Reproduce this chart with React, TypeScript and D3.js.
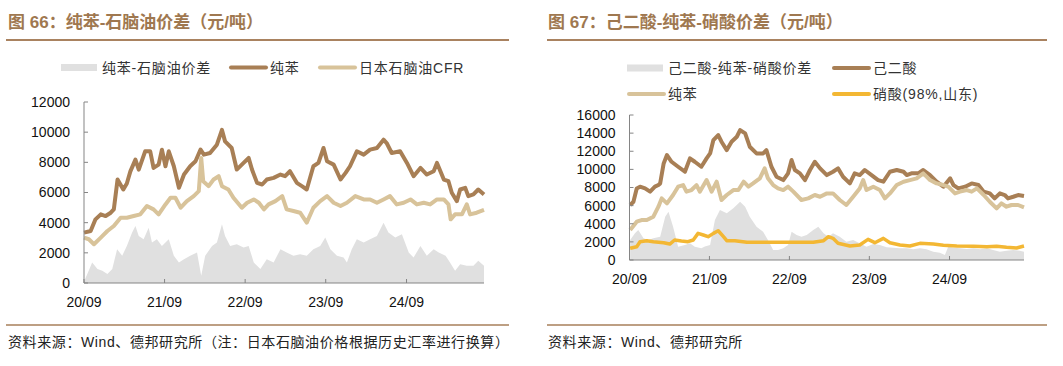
import { scaleLinear, scaleTime, line, area, timeParse, timeFormat } from "d3";

// two spread charts side by side, brokerage report style

type Pt = [string, number];

const FONT = '"Liberation Sans", Arial, "Noto Sans CJK SC", sans-serif';
const BROWN = "#a87f55";
const TAN = "#d8c39a";
const GRAY = "#e0e0e0";
const YELLOW = "#f3b733";
const TITLE = "#9f7850";

// ---- chart 66: benzene - naphtha ----
const LEFT_SPREAD: Pt[] = [
  ["2020-09-01", 100], ["2020-09-16", 590], ["2020-10-08", 1360], ["2020-11-01", 920],
  ["2020-11-23", 810], ["2020-12-16", 590], ["2021-01-07", 920], ["2021-01-29", 2240],
  ["2021-02-21", 1800], ["2021-03-14", 2460], ["2021-04-07", 3340], ["2021-04-22", 3780],
  ["2021-05-07", 3120], ["2021-05-29", 2900], ["2021-06-21", 3670], ["2021-07-06", 2680],
  ["2021-07-28", 2900], ["2021-08-20", 2460], ["2021-09-20", 2900], ["2021-10-13", 1800],
  ["2021-11-05", 1360], ["2021-11-28", 1580], ["2021-12-26", 1800], ["2022-01-26", 2020],
  ["2022-02-14", 480], ["2022-03-04", 1800], ["2022-04-04", 2460], ["2022-04-26", 2680],
  ["2022-05-19", 3890], ["2022-06-02", 3120], ["2022-06-25", 2460], ["2022-07-25", 2570],
  ["2022-08-25", 2350], ["2022-09-17", 2460], ["2022-10-10", 1360], ["2022-11-09", 920],
  ["2022-12-08", 1580], ["2023-01-08", 1360], ["2023-02-08", 2240], ["2023-03-08", 2020],
  ["2023-04-08", 1800], ["2023-05-08", 1910], ["2023-06-07", 1800], ["2023-07-07", 2240],
  ["2023-08-07", 2460], ["2023-08-30", 3010], ["2023-09-22", 2240], ["2023-10-22", 1800],
  ["2023-11-21", 1690], ["2023-12-06", 1360], ["2023-12-28", 2240], ["2024-01-20", 2900],
  ["2024-02-20", 2680], ["2024-03-20", 2900], ["2024-04-20", 3120], ["2024-05-20", 4000],
  ["2024-06-11", 3340], ["2024-07-12", 3010], ["2024-08-11", 3230], ["2024-09-11", 2020],
  ["2024-10-03", 1690], ["2024-11-03", 2460], ["2024-12-02", 1800], ["2025-01-02", 2240],
  ["2025-01-25", 2020], ["2025-02-25", 1800], ["2025-03-17", 1360], ["2025-04-09", 810],
  ["2025-05-02", 1250], ["2025-06-01", 1140], ["2025-07-01", 1140], ["2025-07-23", 1470],
  ["2025-08-18", 1140],
];

const LEFT_BENZENE: Pt[] = [
  ["2020-09-01", 3340], ["2020-10-01", 3450], ["2020-10-23", 4220], ["2020-11-16", 4550],
  ["2020-12-08", 4440], ["2020-12-31", 4660], ["2021-01-14", 4880], ["2021-01-31", 6860],
  ["2021-02-26", 6200], ["2021-03-14", 6600], ["2021-03-30", 7400], ["2021-04-22", 8180],
  ["2021-05-07", 7520], ["2021-06-05", 8730], ["2021-06-28", 8730], ["2021-07-13", 7630],
  ["2021-08-05", 7850], ["2021-08-20", 8840], ["2021-09-05", 7740], ["2021-09-20", 8730],
  ["2021-10-13", 7740], ["2021-11-05", 6310], ["2021-11-28", 7190], ["2021-12-26", 7740],
  ["2022-01-19", 8070], ["2022-02-11", 8840], ["2022-02-26", 8510], ["2022-03-26", 8620],
  ["2022-04-26", 9170], ["2022-05-19", 10150], ["2022-06-02", 9390], ["2022-07-02", 8950],
  ["2022-07-25", 7520], ["2022-08-25", 7960], ["2022-09-17", 8290], ["2022-10-02", 7520],
  ["2022-10-25", 6640], ["2022-11-17", 6530], ["2022-12-08", 6860], ["2023-01-08", 6970],
  ["2023-02-08", 7190], ["2023-03-01", 7080], ["2023-03-23", 7410], ["2023-04-23", 6640],
  ["2023-05-16", 6420], ["2023-06-07", 6200], ["2023-07-07", 7740], ["2023-07-30", 7960],
  ["2023-08-22", 8950], ["2023-09-07", 8070], ["2023-10-07", 7850], ["2023-11-07", 6860],
  ["2023-11-30", 7300], ["2023-12-20", 7740], ["2024-01-20", 8730], ["2024-02-20", 8510],
  ["2024-03-20", 8840], ["2024-04-20", 8950], ["2024-05-20", 9500], ["2024-06-03", 9280],
  ["2024-06-26", 8620], ["2024-08-03", 8730], ["2024-09-03", 7960], ["2024-10-03", 7080],
  ["2024-11-03", 7630], ["2024-12-02", 7190], ["2025-01-02", 7410], ["2025-01-17", 7960],
  ["2025-02-17", 6860], ["2025-03-10", 6750], ["2025-03-25", 5980], ["2025-04-17", 5430],
  ["2025-05-02", 6200], ["2025-05-25", 6310], ["2025-06-08", 5760], ["2025-07-01", 5870],
  ["2025-07-23", 6200], ["2025-08-18", 5870],
];

const LEFT_NAPHTHA: Pt[] = [
  ["2020-09-01", 3010], ["2020-09-23", 2900], ["2020-10-16", 2570], ["2020-11-16", 3010],
  ["2020-12-16", 3450], ["2021-01-14", 3780], ["2021-02-14", 4330], ["2021-03-14", 4330],
  ["2021-04-14", 4440], ["2021-05-14", 4550], ["2021-06-13", 5100], ["2021-07-13", 4880],
  ["2021-08-05", 4550], ["2021-09-05", 5210], ["2021-09-28", 5650], ["2021-10-20", 5650],
  ["2021-11-13", 4990], ["2021-12-11", 5430], ["2022-01-11", 5760], ["2022-02-03", 6090],
  ["2022-02-14", 8290], ["2022-02-23", 6750], ["2022-03-19", 6420], ["2022-04-11", 6860],
  ["2022-05-04", 7080], ["2022-05-19", 6420], ["2022-06-17", 6200], ["2022-07-10", 5650],
  ["2022-08-17", 4990], ["2022-09-10", 5320], ["2022-10-10", 5540], ["2022-11-02", 5320],
  ["2022-11-25", 4880], ["2022-12-16", 5210], ["2023-01-16", 5430], ["2023-02-16", 5760],
  ["2023-03-08", 4880], ["2023-04-08", 4770], ["2023-05-08", 4660], ["2023-06-07", 4000],
  ["2023-07-07", 4990], ["2023-08-07", 5430], ["2023-09-07", 5760], ["2023-10-07", 5320],
  ["2023-11-07", 5100], ["2023-12-06", 5320], ["2024-01-13", 5760], ["2024-02-20", 5540],
  ["2024-03-20", 5540], ["2024-04-20", 5320], ["2024-05-20", 5540], ["2024-06-18", 5760],
  ["2024-07-19", 5210], ["2024-08-19", 5320], ["2024-09-19", 5540], ["2024-10-18", 5210],
  ["2024-11-18", 5320], ["2024-12-17", 5210], ["2025-01-17", 5540], ["2025-02-17", 5540],
  ["2025-03-10", 5210], ["2025-03-20", 4220], ["2025-04-09", 4550], ["2025-05-10", 4550],
  ["2025-06-01", 5210], ["2025-06-16", 4550], ["2025-07-16", 4660], ["2025-08-18", 4840],
];

// ---- chart 67: adipic acid - benzene - nitric acid ----
const RIGHT_SPREAD: Pt[] = [
  ["2020-09-04", 2210], ["2020-09-26", 2940], ["2020-10-11", 3310], ["2020-11-04", 2390],
  ["2020-11-26", 2210], ["2020-12-19", 2390], ["2021-01-19", 2570], ["2021-02-11", 4780],
  ["2021-02-26", 5330], ["2021-03-19", 3680], ["2021-04-11", 1470], ["2021-05-12", 1650],
  ["2021-06-04", 1840], ["2021-06-26", 1470], ["2021-07-26", 1290], ["2021-08-11", 1500],
  ["2021-09-04", 1650], ["2021-09-26", 4410], ["2021-10-19", 5510], ["2021-11-19", 5150],
  ["2021-12-19", 5700], ["2022-01-19", 6430], ["2022-02-11", 5880], ["2022-03-04", 4780],
  ["2022-04-04", 3680], ["2022-05-04", 3120], ["2022-05-26", 2210], ["2022-06-19", 1100],
  ["2022-07-11", 1100], ["2022-08-04", 1290], ["2022-08-26", 1650], ["2022-09-11", 3120],
  ["2022-10-04", 2760], ["2022-10-26", 2570], ["2022-11-19", 2760], ["2022-12-19", 3310],
  ["2023-01-11", 3680], ["2023-02-04", 2940], ["2023-02-26", 2570], ["2023-03-19", 2940],
  ["2023-04-19", 2570], ["2023-05-19", 2020], ["2023-06-19", 2210], ["2023-07-19", 1840],
  ["2023-08-19", 1470], ["2023-09-19", 1760], ["2023-10-19", 1650], ["2023-11-19", 1400],
  ["2023-12-19", 1360], ["2024-01-19", 1290], ["2024-02-19", 1290], ["2024-03-19", 1180],
  ["2024-04-19", 1290], ["2024-05-19", 1180], ["2024-06-19", 920], ["2024-07-19", 810],
  ["2024-08-11", 550], ["2024-08-26", 1470], ["2024-09-19", 1360], ["2024-10-19", 1290],
  ["2024-11-19", 1210], ["2024-12-19", 1290], ["2025-01-19", 1180], ["2025-02-19", 1290],
  ["2025-03-19", 1100], ["2025-04-19", 920], ["2025-05-19", 1030], ["2025-06-19", 1100],
  ["2025-07-19", 1030], ["2025-08-07", 920],
];

const RIGHT_ADIPIC: Pt[] = [
  ["2020-09-04", 6065], ["2020-09-19", 6430], ["2020-10-04", 7900], ["2020-10-19", 8090],
  ["2020-11-11", 7900], ["2020-12-04", 7540], ["2020-12-26", 8090], ["2021-01-11", 8270],
  ["2021-01-19", 8450], ["2021-02-04", 10660], ["2021-02-19", 11580], ["2021-03-12", 10840],
  ["2021-04-11", 10290], ["2021-05-12", 9740], ["2021-06-04", 11210], ["2021-06-26", 10840],
  ["2021-07-26", 10290], ["2021-08-19", 11210], ["2021-09-04", 11760], ["2021-09-19", 13230],
  ["2021-10-11", 13790], ["2021-10-26", 13050], ["2021-11-19", 12130], ["2021-12-11", 13050],
  ["2022-01-04", 13600], ["2022-01-19", 14340], ["2022-02-11", 13970], ["2022-03-04", 12500],
  ["2022-04-04", 11760], ["2022-05-04", 11760], ["2022-05-19", 12130], ["2022-06-11", 10290],
  ["2022-07-04", 9190], ["2022-08-04", 8820], ["2022-08-26", 9560], ["2022-09-11", 11030],
  ["2022-09-26", 9930], ["2022-10-19", 9560], ["2022-11-11", 8820], ["2022-12-04", 9930],
  ["2022-12-26", 10840], ["2023-01-19", 10110], ["2023-02-19", 9370], ["2023-03-19", 9740],
  ["2023-04-11", 10110], ["2023-05-04", 9190], ["2023-06-04", 8450], ["2023-06-26", 9560],
  ["2023-07-19", 9370], ["2023-08-11", 9930], ["2023-09-11", 9370], ["2023-10-11", 8820],
  ["2023-11-04", 8640], ["2023-12-04", 9740], ["2024-01-04", 9930], ["2024-02-04", 9740],
  ["2024-02-19", 9370], ["2024-03-11", 9560], ["2024-04-11", 9560], ["2024-05-04", 9930],
  ["2024-06-04", 9370], ["2024-07-04", 8640], ["2024-08-04", 8090], ["2024-09-04", 9010],
  ["2024-09-19", 8270], ["2024-10-11", 7900], ["2024-11-11", 8090], ["2024-12-11", 8450],
  ["2025-01-11", 8270], ["2025-02-04", 7540], ["2025-03-04", 7350], ["2025-03-26", 6800],
  ["2025-04-19", 7350], ["2025-05-11", 7170], ["2025-05-26", 6800], ["2025-06-19", 6980],
  ["2025-07-11", 7170], ["2025-08-07", 7060],
];

const RIGHT_BENZENE: Pt[] = [
  ["2020-09-04", 3310], ["2020-10-04", 4230], ["2020-10-26", 4410], ["2020-11-19", 4410],
  ["2020-12-19", 4780], ["2021-01-11", 5880], ["2021-01-26", 6800], ["2021-02-19", 6250],
  ["2021-03-19", 7170], ["2021-04-11", 8090], ["2021-05-04", 8270], ["2021-05-19", 7540],
  ["2021-06-11", 7720], ["2021-07-04", 8270], ["2021-07-19", 7540], ["2021-08-19", 8820],
  ["2021-09-11", 7540], ["2021-10-04", 8640], ["2021-10-26", 6620], ["2021-11-19", 7170],
  ["2021-12-19", 7720], ["2022-01-11", 7720], ["2022-02-04", 8640], ["2022-02-26", 8090],
  ["2022-03-19", 8450], ["2022-04-19", 9010], ["2022-05-11", 10110], ["2022-05-26", 9010],
  ["2022-06-19", 8270], ["2022-07-11", 7900], ["2022-08-04", 7720], ["2022-08-26", 8090],
  ["2022-09-19", 7540], ["2022-10-26", 6620], ["2022-11-26", 6800], ["2022-12-26", 7170],
  ["2023-01-19", 6980], ["2023-02-19", 7350], ["2023-03-19", 7350], ["2023-04-19", 6620],
  ["2023-05-19", 6070], ["2023-06-19", 6980], ["2023-07-19", 7900], ["2023-08-04", 8820],
  ["2023-08-19", 7720], ["2023-09-19", 8090], ["2023-10-19", 7720], ["2023-11-11", 6800],
  ["2023-12-04", 7350], ["2024-01-04", 8270], ["2024-02-04", 8640], ["2024-03-04", 8820],
  ["2024-04-04", 9010], ["2024-05-04", 9560], ["2024-06-04", 8820], ["2024-07-04", 8450],
  ["2024-08-04", 8270], ["2024-08-26", 8090], ["2024-09-26", 7350], ["2024-10-19", 7540],
  ["2024-11-19", 7720], ["2024-12-11", 7540], ["2025-01-04", 7900], ["2025-02-04", 7170],
  ["2025-03-04", 6430], ["2025-04-04", 5700], ["2025-04-26", 6250], ["2025-05-19", 5880],
  ["2025-06-11", 6070], ["2025-07-11", 6070], ["2025-08-07", 5810],
];

const RIGHT_NITRIC: Pt[] = [
  ["2020-09-04", 1290], ["2020-10-04", 1470], ["2020-10-19", 2020], ["2020-11-19", 2130],
  ["2020-12-19", 2020], ["2021-02-04", 1910], ["2021-03-04", 1760], ["2021-03-26", 2210],
  ["2021-04-26", 2100], ["2021-05-26", 2020], ["2021-06-19", 2210], ["2021-07-11", 2940],
  ["2021-08-04", 2760], ["2021-08-26", 2570], ["2021-09-19", 2940], ["2021-10-11", 3230],
  ["2021-11-04", 2570], ["2021-11-19", 2130], ["2021-12-26", 2130], ["2022-02-19", 1950],
  ["2022-04-19", 1950], ["2022-07-04", 1950], ["2022-09-19", 1950], ["2022-12-19", 1950],
  ["2023-02-04", 2130], ["2023-02-26", 2570], ["2023-03-19", 2390], ["2023-04-11", 1840],
  ["2023-06-04", 1540], ["2023-07-19", 1650], ["2023-08-26", 2280], ["2023-09-26", 1910],
  ["2023-11-04", 2390], ["2023-12-04", 1910], ["2024-01-19", 1650], ["2024-03-04", 1540],
  ["2024-04-19", 1840], ["2024-06-19", 1760], ["2024-08-04", 1620], ["2024-10-04", 1540],
  ["2024-12-19", 1510], ["2025-02-19", 1470], ["2025-04-04", 1510], ["2025-05-19", 1400],
  ["2025-07-04", 1320], ["2025-08-07", 1540],
];

const X_TICKS = ["2020-09-01", "2021-09-01", "2022-09-01", "2023-09-01", "2024-09-01"];
const LEFT_Y_TICKS = [0, 2000, 4000, 6000, 8000, 10000, 12000];
const RIGHT_Y_TICKS = [0, 2000, 4000, 6000, 8000, 10000, 12000, 14000, 16000];

const parse = timeParse("%Y-%m-%d");
const fmt = timeFormat("%y/%m");

type LineSeries = { data: Pt[]; color: string; width: number };

type PanelProps = {
  x0: number;
  x1: number;
  yTop: number;
  yBottom: number;
  end: string;
  yTicks: number[];
  spread: Pt[];
  lines: LineSeries[];
};

const Panel = ({ x0, x1, yTop, yBottom, end, yTicks, spread, lines }: PanelProps) => {
  const xScale = scaleTime()
    .domain([parse("2020-09-01")!, parse(end)!])
    .range([x0, x1]);
  const yScale = scaleLinear()
    .domain([0, yTicks[yTicks.length - 1]])
    .range([yBottom, yTop]);

  const areaGen = area<Pt>()
    .x((d) => xScale(parse(d[0])!))
    .y0(yScale(0))
    .y1((d) => yScale(d[1]));
  const lineGen = line<Pt>()
    .x((d) => xScale(parse(d[0])!))
    .y((d) => yScale(d[1]));

  return (
    <g>
      <path d={areaGen(spread) ?? ""} fill={GRAY} />
      {lines.map((s, i) => (
        <path
          key={i}
          d={lineGen(s.data) ?? ""}
          fill="none"
          stroke={s.color}
          strokeWidth={s.width}
          strokeLinejoin="round"
        />
      ))}
      {/* axes */}
      <line x1={x0} x2={x0} y1={yScale(yTicks[yTicks.length - 1])} y2={yScale(0)} stroke="#858585" />
      <line x1={x0} x2={x1} y1={yScale(0)} y2={yScale(0)} stroke="#858585" />
      {yTicks.map((t) => (
        <g key={t}>
          <line x1={x0} x2={x0 + 4} y1={yScale(t)} y2={yScale(t)} stroke="#858585" />
          <text
            x={x0 - 14}
            y={yScale(t)}
            dy="0.35em"
            textAnchor="end"
            fontSize={14}
            fill="#111"
            fontFamily={FONT}
          >
            {t}
          </text>
        </g>
      ))}
      {X_TICKS.map((t) => {
        const x = xScale(parse(t)!);
        return (
          <g key={t}>
            <line x1={x} x2={x} y1={yScale(0)} y2={yScale(0) - 4} stroke="#858585" />
            <text x={x} y={yScale(0) + 24} textAnchor="middle" fontSize={14} fill="#111" fontFamily={FONT}>
              {fmt(parse(t)!)}
            </text>
          </g>
        );
      })}
    </g>
  );
};

const LegendRect = ({ x, y, label }: { x: number; y: number; label: string }) => (
  <g>
    <rect x={x} y={y - 3.5} width={36} height={7} fill={GRAY} />
    <text x={x + 41} y={y + 5.3} fontSize={14} letterSpacing={0.8} fill="#333" fontFamily={FONT}>
      {label}
    </text>
  </g>
);

const LegendLine = ({ x, y, color, label }: { x: number; y: number; color: string; label: string }) => (
  <g>
    <line x1={x + 2} x2={x + 37} y1={y} y2={y} stroke={color} strokeWidth={4} strokeLinecap="round" />
    <text x={x + 41} y={y + 5.3} fontSize={14} letterSpacing={0.8} fill="#333" fontFamily={FONT}>
      {label}
    </text>
  </g>
);

const Header = ({ x, x0, x1, title }: { x: number; x0: number; x1: number; title: string }) => (
  <g>
    <text x={x} y={28} fontSize={17} fontWeight="bold" fill={TITLE} fontFamily={FONT}>
      {title}
    </text>
    <line x1={x0} x2={x1} y1={40} y2={40} stroke="#a98260" strokeWidth={2} />
  </g>
);

const Footer = ({ x, x0, x1, text }: { x: number; x0: number; x1: number; text: string }) => (
  <g>
    <line x1={x0} x2={x1} y1={325} y2={325} stroke="#bd9f83" strokeWidth={2} />
    <text x={x} y={347} fontSize={14} letterSpacing={0.6} fill="#222" fontFamily={FONT}>
      {text}
    </text>
  </g>
);

export default function App() {
  return (
    <svg
      width={1063}
      height={366}
      style={{ position: "absolute", left: 0, top: 0, background: "#fff" }}
    >
      {/* left chart */}
      <Header x={8} x0={6} x1={509} title="图 66：纯苯-石脑油价差（元/吨）" />
      <LegendRect x={61} y={67.5} label="纯苯-石脑油价差" />
      <LegendLine x={229} y={67.5} color={BROWN} label="纯苯" />
      <LegendLine x={318} y={67.5} color={TAN} label="日本石脑油CFR" />
      <Panel
        x0={84}
        x1={484}
        yTop={102}
        yBottom={283}
        end="2025-08-18"
        yTicks={LEFT_Y_TICKS}
        spread={LEFT_SPREAD}
        lines={[
          { data: LEFT_BENZENE, color: BROWN, width: 4 },
          { data: LEFT_NAPHTHA, color: TAN, width: 4 },
        ]}
      />
      <Footer
        x={8}
        x0={6}
        x1={509}
        text="资料来源：Wind、德邦研究所（注：日本石脑油价格根据历史汇率进行换算）"
      />

      {/* right chart */}
      <Header x={548} x0={547} x1={1047} title="图 67：己二酸-纯苯-硝酸价差（元/吨）" />
      <LegendRect x={627} y={68} label="己二酸-纯苯-硝酸价差" />
      <LegendLine x={832} y={68} color={BROWN} label="己二酸" />
      <LegendLine x={627} y={94} color={TAN} label="纯苯" />
      <LegendLine x={832} y={94} color={YELLOW} label="硝酸(98%,山东)" />
      <Panel
        x0={629.5}
        x1={1024}
        yTop={115}
        yBottom={260}
        end="2025-08-07"
        yTicks={RIGHT_Y_TICKS}
        spread={RIGHT_SPREAD}
        lines={[
          { data: RIGHT_ADIPIC, color: BROWN, width: 4 },
          { data: RIGHT_BENZENE, color: TAN, width: 4 },
          { data: RIGHT_NITRIC, color: YELLOW, width: 3.5 },
        ]}
      />
      <Footer x={548} x0={547} x1={1047} text="资料来源：Wind、德邦研究所" />
    </svg>
  );
}
